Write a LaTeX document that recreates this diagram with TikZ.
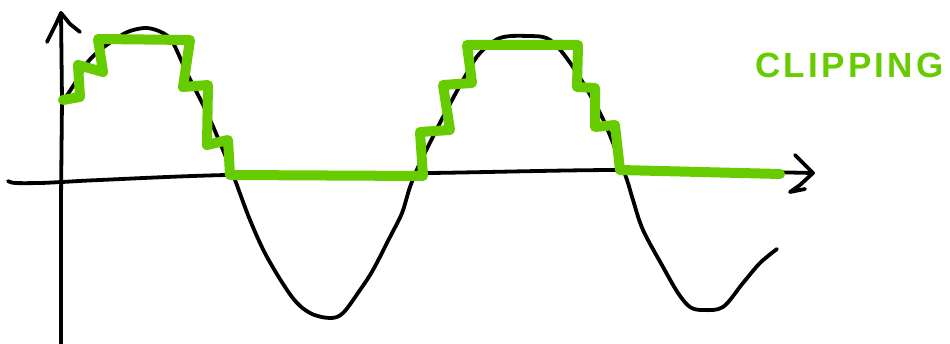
\documentclass[tikz,border=0pt]{standalone}
\usepackage{fontspec}
\newfontfamily\clipfont[LetterSpace=9.5]{Liberation Sans}
\definecolor{clipgreen}{RGB}{102,204,0}
\begin{document}
\begin{tikzpicture}[x=1pt,y=-1pt,
  inkline/.style={line width=3.8pt,black,line cap=round,line join=round},
  clipline/.style={line width=10pt,clipgreen,line cap=round,line join=round},
  cliplabel/.style={text=clipgreen,inner sep=0pt,anchor=base west,font=\clipfont\bfseries\fontsize{35}{35}\selectfont}]
\useasboundingbox (0,0) rectangle (950,344);
% axes
\draw[inkline] (61,344) -- (61,200) -- (62,100) -- (61,13);
\draw[inkline] (47,42) -- (55,26) -- (61,13) -- (70,24) -- (80,32);
\draw[inkline] plot[smooth,tension=0.5] coordinates {(8,181) (15,183) (40,183) (62,182) (100,180) (227,175) (430,173) (620,170) (813,173)};
\draw[inkline] (795,155) -- (813,173) -- (800,185) -- (790,192) -- (805,189);
% wave
\draw[inkline] plot[smooth,tension=0.55] coordinates {
(62,103) (77,80) (87,63) (100,50) (117,38) (130,31) (147,28) (163,33) (173,43) (187,73) (207,113) (223,150) (235,180) (250,220) (267,257) (292,297) (310,313) (330,318) (343,313) (360,290) (373,270) (390,237) (402,213) (410,187) (420,163) (443,117) (467,73) (480,53) (500,38) (527,36) (550,40) (573,67) (600,113) (617,153) (627,180) (633,200) (643,230) (663,267) (678,293) (690,307) (703,310) (723,307) (743,283) (760,263) (777,249)};
% clipped staircase
\draw[clipline] (63,100) -- (80,97) -- (78,65) -- (103,72) -- (98,39) -- (190,40) -- (183,87) -- (208,85) -- (207,145) -- (228,140) -- (230,175) -- (423,176) -- (420,132) -- (450,130) -- (443,85) -- (472,83) -- (467,45) -- (578,45) -- (577,87) -- (595,88) -- (595,127) -- (615,125) -- (620,170) -- (780,174);
% label
\node[cliplabel] (clip) at (755,78) {CLIPPING};
\end{tikzpicture}
\end{document}
